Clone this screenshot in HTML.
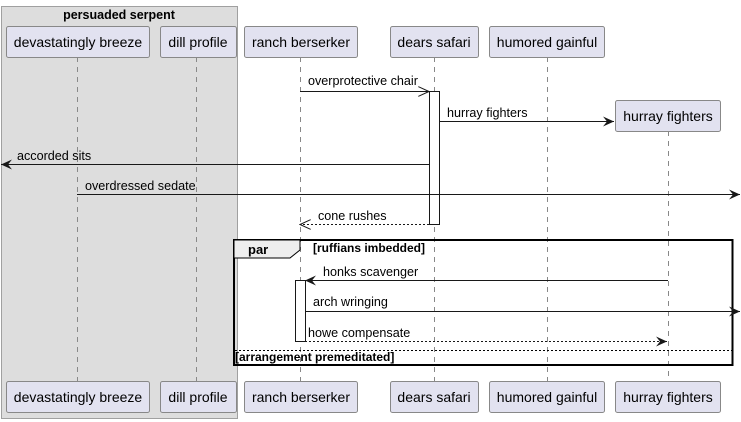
<!DOCTYPE html>
<html><head><meta charset="utf-8"><style>
html,body{margin:0;padding:0;background:#fff;}
svg{display:block;}
text{font-family:"Liberation Sans",sans-serif;fill:#000;}
.p{font-size:14px;}
.m{font-size:12.6px;}
.b{font-size:12px;font-weight:bold;}
</style></head><body>
<svg width="741" height="422" viewBox="0 0 741 422" xmlns="http://www.w3.org/2000/svg">
<defs>
<marker id="fa" markerWidth="12" markerHeight="10" refX="11" refY="5" orient="auto" markerUnits="userSpaceOnUse"><path d="M0,0 L11,5 L0,10 L4,5 Z" fill="#181818"/></marker>
<marker id="oa" markerWidth="12" markerHeight="10" refX="11" refY="5" orient="auto" markerUnits="userSpaceOnUse"><path d="M0,0 L11,5 L0,10" fill="none" stroke="#181818" stroke-width="1"/></marker>
</defs>
<rect x="1.5" y="6.5" width="236" height="412" fill="#dddddd" stroke="#a0a0a0" stroke-width="1"/>
<text x="119" y="19" class="b" text-anchor="middle" style="font-size:12.5px">persuaded serpent</text>
<g stroke="#888" stroke-dasharray="5,5" stroke-width="1">
<line x1="77.5" y1="57" x2="77.5" y2="381"/>
<line x1="196.5" y1="57" x2="196.5" y2="381"/>
<line x1="300.5" y1="57" x2="300.5" y2="381"/>
<line x1="434.5" y1="57" x2="434.5" y2="381"/>
<line x1="547.5" y1="57" x2="547.5" y2="381"/>
<line x1="668.5" y1="131" x2="668.5" y2="381"/>
</g>
<g fill="#e2e2f0" stroke="#888" stroke-width="1">
<rect x="6.5" y="26.5" width="143" height="31" rx="2"/>
<rect x="160.5" y="26.5" width="76" height="31" rx="2"/>
<rect x="244.5" y="26.5" width="113" height="31" rx="2"/>
<rect x="390.5" y="26.5" width="88" height="31" rx="2"/>
<rect x="489.5" y="26.5" width="115" height="31" rx="2"/>
<rect x="615.5" y="100.5" width="105" height="31" rx="2"/>
<rect x="6.5" y="381.5" width="143" height="31" rx="2"/>
<rect x="160.5" y="381.5" width="76" height="31" rx="2"/>
<rect x="244.5" y="381.5" width="113" height="31" rx="2"/>
<rect x="390.5" y="381.5" width="88" height="31" rx="2"/>
<rect x="489.5" y="381.5" width="115" height="31" rx="2"/>
<rect x="615.5" y="381.5" width="105" height="31" rx="2"/>
</g>
<g class="p" text-anchor="middle">
<text x="78" y="47">devastatingly breeze</text>
<text x="198" y="47">dill profile</text>
<text x="301" y="47">ranch berserker</text>
<text x="434" y="47">dears safari</text>
<text x="547" y="47">humored gainful</text>
<text x="668" y="121">hurray fighters</text>
<text x="78" y="402">devastatingly breeze</text>
<text x="198" y="402">dill profile</text>
<text x="301" y="402">ranch berserker</text>
<text x="434" y="402">dears safari</text>
<text x="547" y="402">humored gainful</text>
<text x="668" y="402">hurray fighters</text>
</g>
<rect x="429.5" y="91.5" width="10" height="133" fill="#fff" stroke="#181818"/>
<g stroke="#181818" stroke-width="1" fill="none">
<line x1="300" y1="91.5" x2="429" y2="91.5" marker-end="url(#oa)"/>
<line x1="439" y1="121.5" x2="614" y2="121.5" marker-end="url(#fa)"/>
<line x1="429" y1="164.5" x2="1" y2="164.5" marker-end="url(#fa)"/>
<line x1="77" y1="194.5" x2="740" y2="194.5" marker-end="url(#fa)"/>
<line x1="429" y1="224.5" x2="300" y2="224.5" stroke-dasharray="2,2" marker-end="url(#oa)"/>
</g>
<g class="m">
<text x="308" y="85">overprotective chair</text>
<text x="447" y="117">hurray fighters</text>
<text x="17" y="160">accorded sits</text>
<text x="85" y="190">overdressed sedate</text>
<text x="318" y="220">cone rushes</text>
</g>
<rect x="234" y="240" width="498.5" height="125" fill="none" stroke="#000" stroke-width="2"/>
<path d="M234,240 L300,240 L300,250 L290,258 L234,258 Z" fill="#eeeeee" stroke="#000" stroke-width="1"/>
<text x="248" y="254" class="b" style="font-size:13px">par</text>
<text x="313" y="252" class="b">[ruffians imbedded]</text>
<line x1="235" y1="350.5" x2="732" y2="350.5" stroke="#000" stroke-dasharray="2,2"/>
<text x="235" y="361" class="b">[arrangement premeditated]</text>
<rect x="295.5" y="280.5" width="10" height="61" fill="#fff" stroke="#181818"/>
<g stroke="#181818" stroke-width="1" fill="none">
<line x1="668" y1="280.5" x2="305" y2="280.5" marker-end="url(#fa)"/>
<line x1="305" y1="311.5" x2="740" y2="311.5" marker-end="url(#fa)"/>
<line x1="305" y1="341.5" x2="667" y2="341.5" stroke-dasharray="2,2" marker-end="url(#fa)"/>
</g>
<g class="m">
<text x="323" y="276">honks scavenger</text>
<text x="313" y="306">arch wringing</text>
<text x="308" y="337">howe compensate</text>
</g>
</svg>
</body></html>
